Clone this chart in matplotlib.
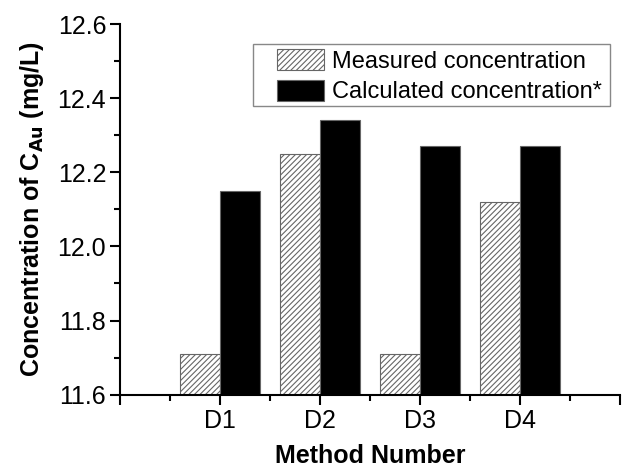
import numpy as np
import matplotlib.pyplot as plt
from matplotlib.patches import Rectangle

plt.rcParams['font.family'] = ['Liberation Sans', 'DejaVu Sans']
plt.rcParams['hatch.color'] = '#555555'
plt.rcParams['hatch.linewidth'] = 0.8

# values
methods = ["D1", "D2", "D3", "D4"]
measured = [11.71, 12.25, 11.71, 12.12]
calculated = [12.15, 12.34, 12.27, 12.27]

x = np.arange(1, len(methods) + 1)
w = 0.4

W, H = 622, 471
fig = plt.figure(figsize=(W / 100, H / 100), dpi=100)
ax = fig.add_axes([0.193, 0.162, 0.804, 0.787])

base = 11.6
ax.bar(x - w / 2, np.array(measured) - base, w, bottom=base, color="white",
       edgecolor="#666666", linewidth=0.8, hatch="//////",
       label="Measured concentration")
ax.bar(x + w / 2, np.array(calculated) - base, w, bottom=base, color="black",
       edgecolor="#666666", linewidth=0.8, label="Calculated concentration*")

ax.set_xlim(0, 5)
ax.set_ylim(11.6, 12.6)
ax.set_xticks([0, 1, 2, 3, 4, 5])
ax.set_xticklabels([""] + methods + [""])
ax.set_xticks(np.arange(0.5, 5, 1.0), minor=True)
ax.set_yticks(np.arange(11.6, 12.61, 0.2))
ax.set_yticklabels([f"{v:.1f}" for v in np.arange(11.6, 12.61, 0.2)])
ax.set_yticks(np.arange(11.7, 12.6, 0.2), minor=True)

ax.spines["top"].set_visible(False)
ax.spines["right"].set_visible(False)
for s in ["left", "bottom"]:
    ax.spines[s].set_linewidth(1.5)
ax.tick_params(which="major", direction="out", length=7, width=1.5, labelsize=18, pad=3)
ax.tick_params(which="minor", direction="out", length=4, width=1.5)

ax.set_xlabel("Method Number", fontsize=18, fontweight="bold", labelpad=8)
ax.set_ylabel(r"Concentration of C$_{\mathbf{Au}}$ (mg/L)", fontsize=18,
              fontweight="bold", labelpad=8)

# legend without its own frame; the box is drawn separately (wider on the left)
ax.legend(loc="upper left", bbox_to_anchor=(277 / W, 1 - 49 / H),
          bbox_transform=fig.transFigure, borderaxespad=0, borderpad=0,
          fontsize=17, frameon=False, handlelength=2.0, handleheight=1.0,
          handletextpad=0.35, labelspacing=0.3)
fig.patches.append(Rectangle((253 / W, 1 - 106 / H), (610 - 253) / W, 62 / H,
                             transform=fig.transFigure, fill=False,
                             edgecolor="#888888", linewidth=1.0))

fig.savefig("out.png", dpi=100, facecolor="white")
